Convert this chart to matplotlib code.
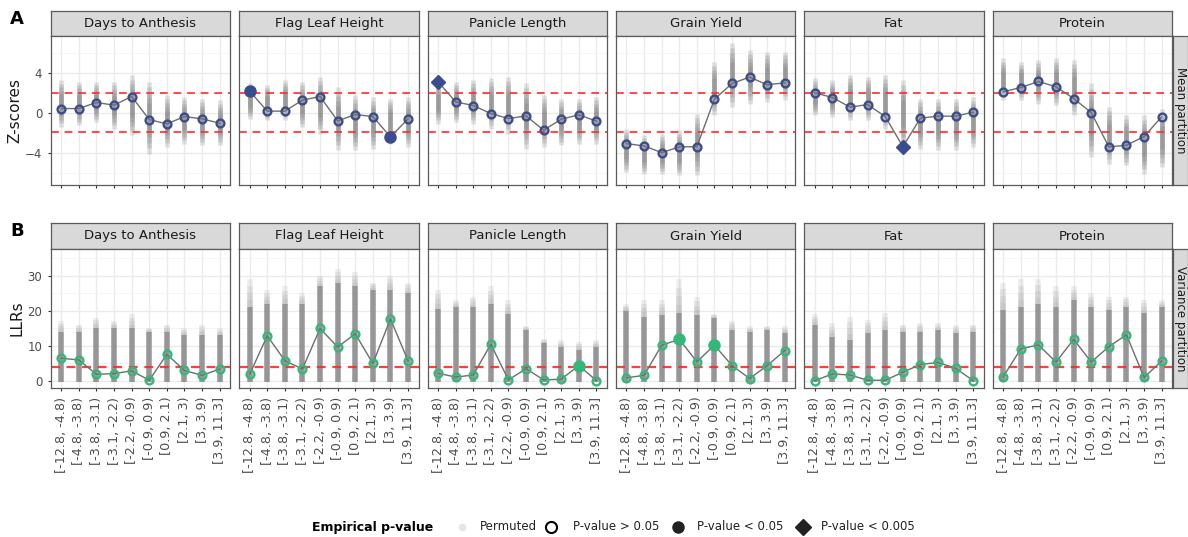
import matplotlib.pyplot as plt
from matplotlib.lines import Line2D

# tamanho da figura em pixels (dpi 100)
W, H = 1188, 537

traits = ['Days to Anthesis', 'Flag Leaf Height', 'Panicle Length',
          'Grain Yield', 'Fat', 'Protein']
bins = ['[-12.8, -4.8)', '[-4.8, -3.8)', '[-3.8, -3.1)', '[-3.1, -2.2)',
        '[-2.2, -0.9)', '[-0.9, 0.9)', '[0.9, 2.1)', '[2.1, 3)',
        '[3, 3.9)', '[3.9, 11.3]']

# particao da media: z-scores observados por bin
z_scores = [
    [0.43, 0.43, 1.03, 0.77, 1.63, -0.67, -1.10, -0.37, -0.60, -1.03],
    [2.17, 0.17, 0.17, 1.27, 1.63, -0.80, -0.17, -0.37, -2.40, -0.60],
    [3.10, 1.10, 0.73, -0.07, -0.57, -0.30, -1.73, -0.63, -0.20, -0.83],
    [-3.07, -3.30, -3.97, -3.40, -3.37, 1.37, 2.93, 3.57, 2.80, 3.00],
    [2.00, 1.53, 0.57, 0.83, -0.37, -3.37, -0.53, -0.33, -0.33, 0.07],
    [2.10, 2.53, 3.13, 2.60, 1.43, 0.03, -3.40, -3.23, -2.37, -0.40],
]
# 0 = p > 0.05, 1 = p < 0.05, 2 = p < 0.005
z_signif = [
    [0, 0, 0, 0, 0, 0, 0, 0, 0, 0],
    [1, 0, 0, 0, 0, 0, 0, 0, 1, 0],
    [2, 0, 0, 0, 0, 0, 0, 0, 0, 0],
    [0, 0, 0, 0, 0, 0, 0, 0, 0, 0],
    [0, 0, 0, 0, 0, 2, 0, 0, 0, 0],
    [0, 0, 0, 0, 0, 0, 0, 0, 0, 0],
]
# amplitude das permutacoes (min, max) por bin
z_perm_lo = [
    [-1.40, -1.23, -0.90, -1.57, -2.23, -4.07, -3.40, -3.07, -3.23, -3.23],
    [-0.57, -0.73, -0.73, -1.40, -2.07, -3.73, -3.73, -3.57, -3.07, -3.40],
    [-1.07, -0.90, -1.07, -1.57, -2.07, -3.57, -3.40, -3.23, -3.07, -3.07],
    [-5.90, -6.07, -6.07, -6.23, -6.23, -0.23, 0.60, 0.93, 1.10, 1.27],
    [-0.23, -0.40, -0.73, -0.73, -1.57, -3.40, -3.57, -3.73, -3.73, -3.40],
    [1.27, 1.27, 0.93, 0.77, -0.23, -4.40, -5.07, -5.23, -6.07, -5.40],
]
z_perm_hi = [
    [3.27, 3.10, 3.10, 3.10, 3.77, 3.10, 1.77, 1.60, 1.43, 1.27],
    [2.93, 2.77, 3.27, 3.10, 3.60, 2.60, 1.77, 1.60, 1.43, 1.60],
    [3.10, 3.10, 3.27, 3.43, 3.60, 2.93, 1.77, 1.43, 1.43, 1.60],
    [-1.57, -2.23, -2.07, -1.73, -0.07, 5.10, 6.93, 6.27, 6.10, 6.10],
    [3.43, 3.27, 3.77, 3.60, 3.77, 3.27, 1.43, 1.43, 1.43, 1.60],
    [5.43, 5.10, 5.27, 5.43, 5.27, 2.93, 0.60, -0.23, -0.23, 0.43],
]

# particao da variancia: LLRs observados por bin
llrs = [
    [6.4, 5.9, 1.8, 2.0, 2.8, 0.1, 7.5, 2.9, 1.5, 3.3],
    [1.8, 12.8, 5.7, 3.3, 14.9, 9.6, 13.4, 4.9, 17.6, 5.7],
    [2.1, 1.0, 1.6, 10.4, 0.2, 3.4, 0.2, 0.4, 4.3, 0.0],
    [0.8, 1.5, 10.1, 11.8, 5.4, 10.1, 4.3, 0.6, 4.3, 8.6],
    [0.0, 1.9, 1.6, 0.1, 0.1, 2.4, 4.6, 5.2, 3.5, 0.0],
    [1.1, 9.1, 10.2, 5.3, 11.8, 5.3, 9.7, 13.1, 0.9, 5.6],
]
llr_signif = [
    [0, 0, 0, 0, 0, 0, 0, 0, 0, 0],
    [0, 0, 0, 0, 0, 0, 0, 0, 0, 0],
    [0, 0, 0, 0, 0, 0, 0, 0, 1, 0],
    [0, 0, 0, 1, 0, 1, 0, 0, 0, 0],
    [0, 0, 0, 0, 0, 0, 0, 0, 0, 0],
    [0, 0, 0, 0, 0, 0, 0, 0, 0, 0],
]
# LLRs permutados: topo da parte densa e maximo
llr_perm_dense = [
    [14, 14, 15, 15, 15, 14, 14, 13, 13, 13],
    [21, 22, 22, 22, 27, 28, 27, 26, 26, 25],
    [20.5, 21, 21, 22, 19, 14.5, 10.7, 9.7, 8.8, 9.7],
    [19.8, 18.3, 18.8, 19.3, 18.8, 17.9, 14.5, 14.0, 14.5, 13.6],
    [16.0, 12.6, 11.6, 13.6, 14.5, 14.0, 14.0, 14.5, 13.6, 14.0],
    [20.2, 21, 22, 21, 23, 21, 20.2, 21, 19.3, 21],
]
llr_perm_max = [
    [17, 16, 18, 17, 19, 15, 16, 15, 16, 15],
    [29, 26, 27, 25, 30, 32, 31, 28, 30, 28],
    [26, 23, 24, 27, 23, 15.5, 12, 11.5, 11, 11.5],
    [22, 23, 23, 29, 24, 19, 17, 15.5, 15.5, 15.5],
    [19, 16.4, 18.3, 17.4, 19.3, 16, 16.4, 16.4, 16, 16],
    [28, 29, 29, 27, 27, 25, 24, 24, 23, 23],
]

NAVY = '#3B4C8E'
GREEN = '#35B779'
GRID = '#EBEBEB'
BORDER = '#5A5A5A'
TXT = '#4D4D4D'


def px_axes(fig, x0, y0, x1, y1):
    # cria eixos a partir de coordenadas em pixels (origem no topo)
    return fig.add_axes([x0 / W, 1 - y1 / H, (x1 - x0) / W, (y1 - y0) / H])


def strip(fig, x0, y0, x1, y1, texto, rot=0, tam=9.5):
    ax = px_axes(fig, x0, y0, x1, y1)
    ax.set_facecolor('#D9D9D9')
    ax.set_xticks([])
    ax.set_yticks([])
    for s in ax.spines.values():
        s.set_color(BORDER)
        s.set_linewidth(0.9)
    ax.text(0.5, 0.5, texto, transform=ax.transAxes, ha='center', va='center',
            rotation=rot, fontsize=tam, color='#1A1A1A')
    return ax


def estilo_painel(ax, ylim, yticks, yminor):
    ax.set_xlim(0.4, 10.6)
    ax.set_ylim(*ylim)
    ax.set_xticks(range(1, 11))
    ax.set_yticks(yticks)
    ax.set_yticks(yminor, minor=True)
    ax.grid(True, which='major', color=GRID, lw=1.0, zorder=0)
    ax.grid(True, which='minor', axis='y', color='#F4F4F4', lw=0.6, zorder=0)
    ax.set_axisbelow(True)
    for s in ax.spines.values():
        s.set_color(BORDER)
        s.set_linewidth(0.9)
    ax.tick_params(length=2.5, color='#333333', labelsize=8.5, labelcolor=TXT,
                   width=0.8)
    ax.tick_params(which='minor', length=0)


def desenha_pontos(ax, x, y, signif, cor):
    ax.plot(x, y, color='#6E6E6E', lw=1.0, zorder=3)
    for xi, yi, s in zip(x, y, signif):
        if s == 0:
            ax.plot(xi, yi, 'o', ms=5.6, mfc='none', mec=cor, mew=1.7, zorder=4)
        elif s == 1:
            ax.plot(xi, yi, 'o', ms=8, mfc=cor, mec=cor, zorder=4)
        else:
            ax.plot(xi, yi, 'D', ms=7.5, mfc=cor, mec=cor, zorder=4)


def main():
    fig = plt.figure(figsize=(W / 100, H / 100), dpi=100)
    x = list(range(1, 11))
    left0, passo, largura = 50.7, 188.4, 179.5

    # ---- painel A: particao da media ----
    for i, trait in enumerate(traits):
        x0 = left0 + i * passo
        strip(fig, x0, 11, x0 + largura, 35.7, trait)
        ax = px_axes(fig, x0, 35.7, x0 + largura, 185)
        estilo_painel(ax, (-7.2, 7.7), [-4, 0, 4], [-6, -2, 2, 6])
        ax.set_xticklabels([])
        if i > 0:
            ax.tick_params(axis='y', length=0, labelleft=False)
        # permutacoes: faixas com gradiente de densidade
        for xi, lo, hi in zip(x, z_perm_lo[i], z_perm_hi[i]):
            c, h = (lo + hi) / 2, (hi - lo) / 2
            for f in (1.0, 0.85, 0.7, 0.55, 0.4):
                ax.vlines(xi, c - h * f, c + h * f, color='#707070', lw=3.4,
                          alpha=0.2, zorder=1)
        for yl in (1.96, -1.96):
            ax.axhline(yl, color='#FF2A2A', lw=1.4, ls=(0, (4, 3)), alpha=0.85,
                       zorder=2)
        desenha_pontos(ax, x, z_scores[i], z_signif[i], NAVY)
        if i == 0:
            ax.set_ylabel('Z-scores', fontsize=11, color='#1A1A1A', labelpad=2)
    strip(fig, 1173, 35.7, 1187.5, 185, 'Mean partition', rot=-90, tam=8.5)

    # ---- painel B: particao da variancia ----
    for i, trait in enumerate(traits):
        x0 = left0 + i * passo
        strip(fig, x0, 223.3, x0 + largura, 248.7, trait)
        ax = px_axes(fig, x0, 248.7, x0 + largura, 388.3)
        estilo_painel(ax, (-2.2, 37.7), [0, 10, 20, 30], [5, 15, 25, 35])
        ax.set_xticklabels(bins, rotation=90, fontsize=9.2)
        if i > 0:
            ax.tick_params(axis='y', length=0, labelleft=False)
        for xi, d, m in zip(x, llr_perm_dense[i], llr_perm_max[i]):
            ax.vlines(xi, -0.4, d, color='#868686', lw=4.0, alpha=0.85, zorder=1)
            passo_f = (m - d) / 4
            for k in range(4):
                ax.vlines(xi, d, d + passo_f * (k + 1), color='#9A9A9A',
                          lw=4.0, alpha=0.16, zorder=1)
        ax.axhline(3.84, color='#FF2A2A', lw=1.6, ls=(0, (4, 3)), alpha=0.9,
                   zorder=2)
        desenha_pontos(ax, x, llrs[i], llr_signif[i], GREEN)
        if i == 0:
            ax.set_ylabel('LLRs', fontsize=11, color='#1A1A1A', labelpad=2)
    strip(fig, 1173, 248.7, 1187.5, 388.3, 'Variance partition', rot=-90, tam=8.5)

    # letras dos paineis
    fig.text(10 / W, 1 - 19 / H, 'A', fontsize=13, fontweight='bold', va='center')
    fig.text(10 / W, 1 - 231 / H, 'B', fontsize=13, fontweight='bold', va='center')

    # ---- legenda ----
    leg = fig.add_axes([0, 0, 1, 1])
    leg.set_xlim(0, W)
    leg.set_ylim(H, 0)
    leg.axis('off')
    yl = 527
    leg.text(312, yl, 'Empirical p-value', fontsize=9, fontweight='bold',
             va='center', ha='left')
    itens = [
        (462, Line2D([], [], marker='o', ms=4.5, mfc='#E6E6E6', mec='#E6E6E6'),
         480, 'Permuted'),
        (551, Line2D([], [], marker='o', ms=8, mfc='none', mec='black', mew=1.5),
         573, 'P-value > 0.05'),
        (678, Line2D([], [], marker='o', ms=8, mfc='#222222', mec='#222222'),
         697, 'P-value < 0.05'),
        (803, Line2D([], [], marker='D', ms=8, mfc='#222222', mec='#222222'),
         821, 'P-value < 0.005'),
    ]
    for xm, ln, xt, rotulo in itens:
        leg.plot(xm, yl, marker=ln.get_marker(), ms=ln.get_markersize(),
                 mfc=ln.get_markerfacecolor(), mec=ln.get_markeredgecolor(),
                 mew=ln.get_markeredgewidth(), ls='none')
        leg.text(xt, yl, rotulo, fontsize=8.5, va='center', ha='left',
                 color='#222222')

    plt.savefig('out.png', dpi=100)


if __name__ == "__main__":
    main()
